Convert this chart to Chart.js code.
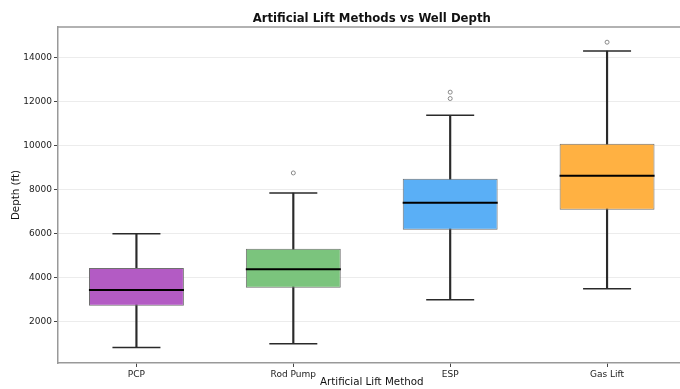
<!DOCTYPE html>
<html>
<head>
<meta charset="utf-8">
<script src="https://cdn.jsdelivr.net/npm/chart.js@4.4.1/dist/chart.umd.min.js"></script>
<style>
  html, body { margin: 0; padding: 0; background: #fff; overflow: hidden; }
  #wrap { width: 690px; height: 389px; }
</style>
</head>
<body>
<div id="wrap"><canvas id="boxChart" width="690" height="389"></canvas></div>
<script>
const methods = ['PCP', 'Rod Pump', 'ESP', 'Gas Lift']
const whiskerLow = [840, 1010, 3010, 3510]
const q1 = [2740, 3560, 6190, 7100]
const median = [3450, 4390, 7420, 8640]
const q3 = [4450, 5330, 8510, 10100]
const whiskerHigh = [6010, 7860, 11390, 14310]
const outlierMethod = ['Rod Pump', 'ESP', 'ESP', 'Gas Lift']
const outlierDepth = [8770, 12150, 12440, 14710]
const boxColors = ['#b35bc4', '#7bc47d', '#5aaff6', '#ffb142']
const yTicks = [2000, 4000, 6000, 8000, 10000, 12000, 14000]

const FONT = "'DejaVu Sans', sans-serif"

const frame = {
  id: 'frame',
  afterDraw(chart) {
    const { ctx, chartArea } = chart
    ctx.save()
    ctx.strokeStyle = '#999'
    ctx.lineWidth = 1.5
    ctx.beginPath()
    ctx.moveTo(chartArea.left - 0.75, chartArea.top)
    ctx.lineTo(chartArea.right, chartArea.top)
    ctx.stroke()
    ctx.fillStyle = '#111'
    ctx.font = 'bold 11.7px ' + FONT
    ctx.textAlign = 'center'
    ctx.textBaseline = 'middle'
    ctx.fillText('Artificial Lift Methods vs Well Depth', (chartArea.left + chartArea.right) / 2, 18.5)
    ctx.restore()
  },
}

const ctx = document.getElementById('boxChart').getContext('2d')

new Chart(ctx, {
  data: {
    labels: methods,
    datasets: [
      {
        type: 'bar',
        label: 'whisker',
        data: methods.map((m, i) => [whiskerLow[i], whiskerHigh[i]]),
        backgroundColor: '#2a2a2a',
        barThickness: 1.5,
        grouped: false,
        order: 5,
      },
      {
        type: 'bar',
        label: 'box',
        data: methods.map((m, i) => [q1[i], q3[i]]),
        backgroundColor: boxColors,
        borderColor: '#6f6f6f',
        borderWidth: 1,
        borderSkipped: false,
        barPercentage: 0.605,
        categoryPercentage: 1,
        grouped: false,
        order: 4,
      },
      {
        type: 'line',
        label: 'capLow',
        data: whiskerLow,
        showLine: false,
        pointStyle: 'line',
        pointRadius: 24,
        borderColor: '#2a2a2a',
        borderWidth: 1.5,
        order: 3,
      },
      {
        type: 'line',
        label: 'capHigh',
        data: whiskerHigh,
        showLine: false,
        pointStyle: 'line',
        pointRadius: 24,
        borderColor: '#2a2a2a',
        borderWidth: 1.5,
        order: 3,
      },
      {
        type: 'line',
        label: 'median',
        data: median,
        showLine: false,
        pointStyle: 'line',
        pointRadius: 47.5,
        borderColor: '#000',
        borderWidth: 2,
        order: 2,
      },
      {
        type: 'line',
        label: 'outliers',
        data: outlierMethod.map((m, i) => ({ x: m, y: outlierDepth[i] })),
        showLine: false,
        pointStyle: 'circle',
        pointRadius: 2,
        backgroundColor: 'transparent',
        borderColor: '#888',
        borderWidth: 1,
        order: 1,
      },
    ],
  },
  options: {
    responsive: false,
    animation: false,
    devicePixelRatio: 1,
    layout: { autoPadding: false, padding: { top: 27, right: 4.5, left: 0, bottom: 0 } },
    plugins: {
      legend: { display: false },
      tooltip: { enabled: false },
      title: { display: false },
    },
    scales: {
      x: {
        type: 'category',
        offset: true,
        grid: {
          offset: false,
          drawOnChartArea: false,
          drawTicks: true,
          tickLength: 4,
          tickColor: '#444',
        },
        border: { color: '#999', width: 1.5 },
        ticks: {
          color: '#222',
          font: { family: FONT, size: 9 },
          padding: 2,
          maxRotation: 0,
        },
        title: {
          display: true,
          text: 'Artificial Lift Method',
          color: '#111',
          font: { family: FONT, size: 10.3 },
          padding: { top: 0, bottom: 0 },
        },
        afterFit(scale) { scale.height = 26 },
      },
      y: {
        min: 136,
        max: 15400,
        afterBuildTicks(scale) { scale.ticks = yTicks.map((v) => ({ value: v })) },
        grid: {
          color: '#ececec',
          lineWidth: 1,
          drawTicks: true,
          tickLength: 4,
          tickColor: '#444',
        },
        border: { color: '#999', width: 1.5 },
        ticks: {
          color: '#222',
          font: { family: FONT, size: 9 },
          padding: 2,
          callback: (v) => String(v),
        },
        title: {
          display: true,
          text: 'Depth (ft)',
          color: '#111',
          font: { family: FONT, size: 10.3 },
          padding: { top: 10, bottom: 0 },
        },
        afterFit(scale) { scale.width = 58 },
      },
    },
  },
  plugins: [frame],
})
</script>
</body>
</html>
